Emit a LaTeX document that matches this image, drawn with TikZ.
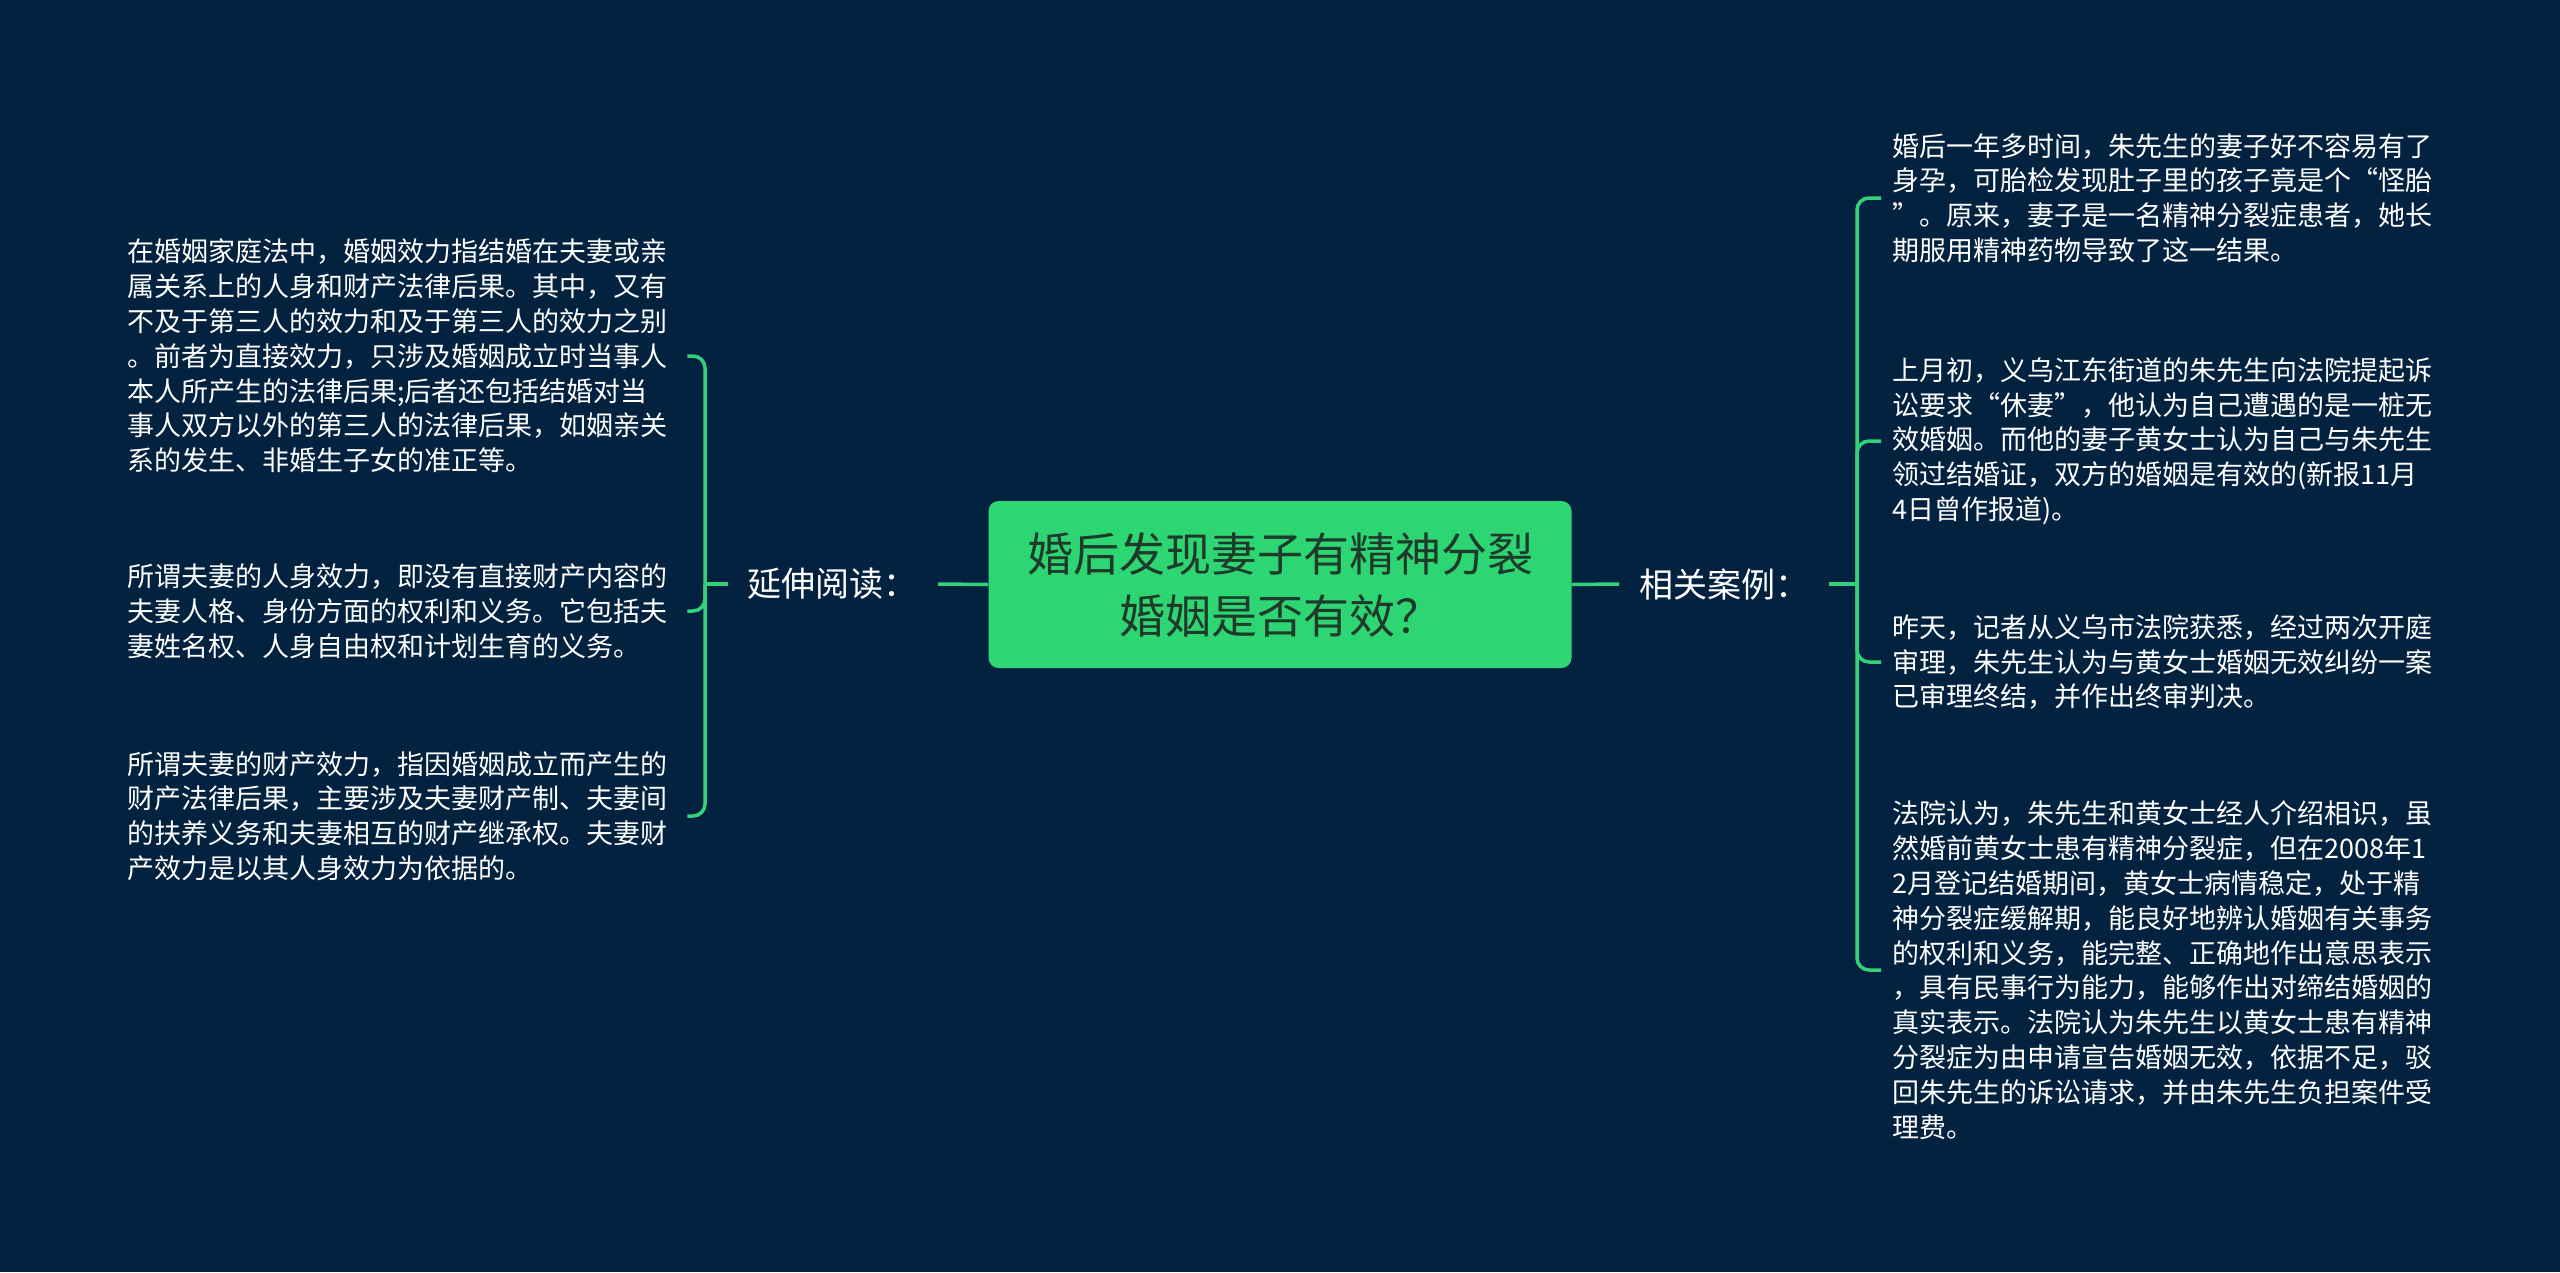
\documentclass[tikz,border=0pt]{standalone}
\usepackage{fontspec}
\setmainfont{Noto Sans CJK SC}
\definecolor{bgnavy}{HTML}{02223F}
\definecolor{boxgreen}{HTML}{2ED573}
\definecolor{linegreen}{HTML}{33D17A}
\definecolor{titletext}{HTML}{1E3A2B}
\begin{document}
\begin{tikzpicture}[x=1pt,y=-1pt,
  conn/.style={draw=linegreen, line width=3.5pt, rounded corners=12pt},
  leaf/.style={text=white, align=left, inner xsep=20pt, inner ysep=6pt, font=\fontsize{27}{34.8}\selectfont},
  rleaf/.style={leaf, inner xsep=11pt},
  lab/.style={text=white, inner xsep=20pt, font=\fontsize{34}{40}\selectfont},
  root/.style={fill=boxgreen, rounded corners=10pt, minimum width=583pt, minimum height=167pt, align=center, text=titletext, font=\fontsize{46}{62}\selectfont}]
\fill[bgnavy] (0,0) rectangle (2560,1272);
\useasboundingbox (0,0) rectangle (2560,1272);

\node[root] (root) at (1280,584.5) {婚后发现妻子有精神分裂\\婚姻是否有效？};

\node[lab, anchor=east] (labL) at (938,584) {延伸阅读：};
\node[lab, anchor=west] (labR) at (1619,584) {相关案例：};

\coordinate (jl) at (705,584);
\coordinate (jr) at (1857,584);

\node[leaf, anchor=west] (L1) at (107,356) {在婚姻家庭法中，婚姻效力指结婚在夫妻或亲\\属关系上的人身和财产法律后果。其中，又有\\不及于第三人的效力和及于第三人的效力之别\\。前者为直接效力，只涉及婚姻成立时当事人\\本人所产生的法律后果;后者还包括结婚对当\\事人双方以外的第三人的法律后果，如姻亲关\\系的发生、非婚生子女的准正等。};
\node[leaf, anchor=west] (L2) at (107,611) {所谓夫妻的人身效力，即没有直接财产内容的\\夫妻人格、身份方面的权利和义务。它包括夫\\妻姓名权、人身自由权和计划生育的义务。};
\node[leaf, anchor=west] (L3) at (107,816) {所谓夫妻的财产效力，指因婚姻成立而产生的\\财产法律后果，主要涉及夫妻财产制、夫妻间\\的扶养义务和夫妻相互的财产继承权。夫妻财\\产效力是以其人身效力为依据的。};

\node[rleaf, anchor=west] (R1) at (1881,198) {婚后一年多时间，朱先生的妻子好不容易有了\\身孕，可胎检发现肚子里的孩子竟是个“怪胎\\”。原来，妻子是一名精神分裂症患者，她长\\期服用精神药物导致了这一结果。};
\node[rleaf, anchor=west] (R2) at (1881,441) {上月初，义乌江东街道的朱先生向法院提起诉\\讼要求“休妻”，他认为自己遭遇的是一桩无\\效婚姻。而他的妻子黄女士认为自己与朱先生\\领过结婚证，双方的婚姻是有效的(新报11月\\4日曾作报道)。};
\node[rleaf, anchor=west] (R3) at (1881,662) {昨天，记者从义乌市法院获悉，经过两次开庭\\审理，朱先生认为与黄女士婚姻无效纠纷一案\\已审理终结，并作出终审判决。};
\node[rleaf, anchor=west] (R4) at (1881,970) {法院认为，朱先生和黄女士经人介绍相识，虽\\然婚前黄女士患有精神分裂症，但在2008年1\\2月登记结婚期间，黄女士病情稳定，处于精\\神分裂症缓解期，能良好地辨认婚姻有关事务\\的权利和义务，能完整、正确地作出意思表示\\，具有民事行为能力，能够作出对缔结婚姻的\\真实表示。法院认为朱先生以黄女士患有精神\\分裂症为由申请宣告婚姻无效，依据不足，驳\\回朱先生的诉讼请求，并由朱先生负担案件受\\理费。};

\draw[conn] (root.west) -- (labL.east);
\draw[conn] (root.east) -- (labR.west);
\draw[conn] (labL.west) -- (jl);
\draw[conn] (labR.east) -- (jr);
\draw[conn] (jl) |- (L1.east);
\draw[conn] (jl) |- (L2.east);
\draw[conn] (jl) |- (L3.east);
\draw[conn] (jr) |- (R1.west);
\draw[conn] (jr) |- (R2.west);
\draw[conn] (jr) |- (R3.west);
\draw[conn] (jr) |- (R4.west);
\end{tikzpicture}
\end{document}
